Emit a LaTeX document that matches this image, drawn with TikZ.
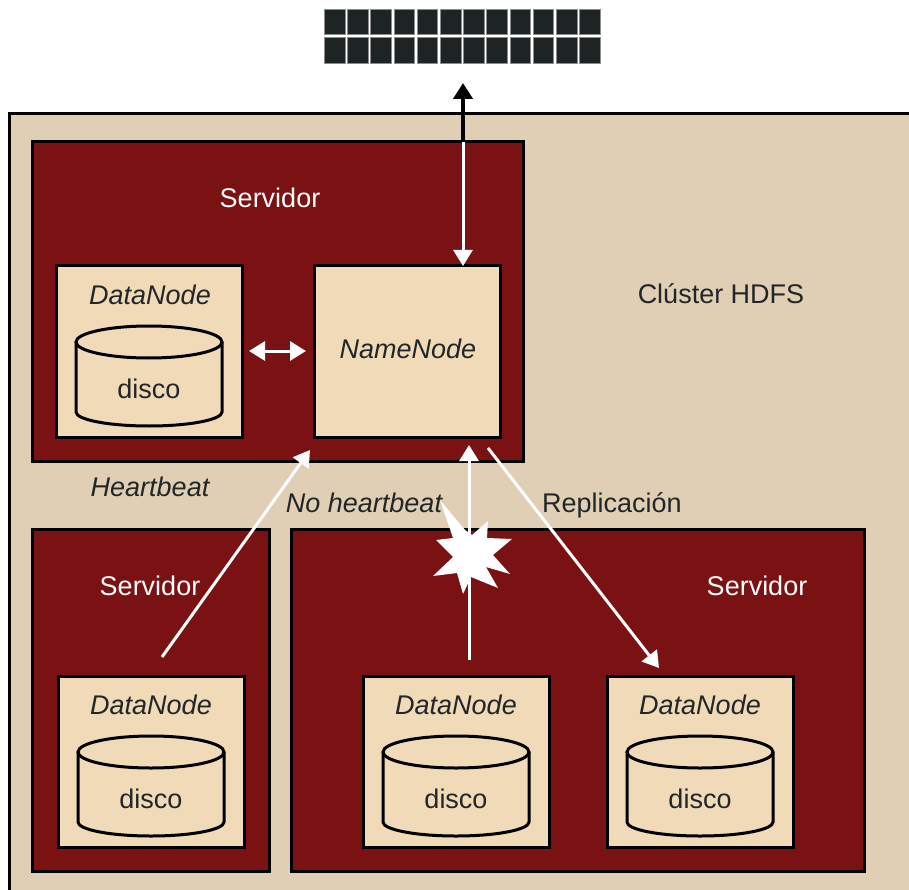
\documentclass[tikz,border=0pt]{standalone}
\usepackage{fontspec}
\setmainfont{Liberation Sans}
\usetikzlibrary{arrows.meta,calc}
\definecolor{cluster}{HTML}{E0CFB4}
\definecolor{srv}{HTML}{7A1112}
\definecolor{box}{HTML}{F0DAB8}
\definecolor{ink}{HTML}{222628}
\definecolor{cellc}{HTML}{1E2324}
\tikzset{
  server/.style={draw=black,line width=3pt,fill=srv,minimum width=#1,inner sep=0pt,outer sep=0pt,anchor=north west},
  card/.style={draw=black,line width=3pt,fill=box,minimum width=186pt,minimum height=171pt,inner sep=0pt,outer sep=0pt,anchor=north west},
  lab/.style={font=\fontsize{27}{30}\selectfont,text=ink,anchor=base,inner sep=0pt},
  wlab/.style={font=\fontsize{27}{30}\selectfont,text=white,anchor=base,inner sep=0pt},
  ilab/.style={lab,font=\fontsize{27}{30}\selectfont\itshape},
  cellbox/.style={draw=black!45,line width=1pt,fill=cellc,minimum width=20.5pt,minimum height=25.5pt,inner sep=0pt,outer sep=0pt,anchor=north west},
  tipw/.style={-{Triangle[width=19pt,length=16pt,fill=white,color=white]}},
  wire/.style={draw=white,line width=3pt},
  disk/.pic={
    \draw[line width=3pt,fill=box] (-73,-35) -- (-73,35) arc[start angle=180,end angle=0,x radius=73,y radius=14] -- (73,-35);
    \draw[line width=3pt,fill=box] (0,-35) ellipse[x radius=73,y radius=16];
  }
}
\begin{document}
\begin{tikzpicture}[x=1pt,y=-1pt]
\useasboundingbox (0,0) rectangle (909,890);
\fill[white] (0,0) rectangle (909,890);
\fill[cluster] (9,114) rectangle (909,890);
\draw[line width=3pt,line cap=butt] (9,890) -- (9,114) -- (909,114);

% output grid
\foreach \c in {0,...,11}{
  \node[cellbox] (a\c) at ({324.5+23.2*\c},9.5) {};
  \node[cellbox] (b\c) at ({324.5+23.2*\c},37.7) {};
}
\coordinate (gridbase) at (463,83);

% servers
\node[server=491pt,minimum height=319pt] (s1) at (32,142) {};
\node[server=237pt,minimum height=342pt] (s2) at (32,529) {};
\node[server=573pt,minimum height=342pt] (s3) at (291,529) {};

% cards
\node[card] (dn1) at (56,266) {};
\node[card] (nn) at (314.5,266) {};
\node[card] (dn2) at (58,676) {};
\node[card] (dn3) at (363,676) {};
\node[card] (dn4) at (607,676) {};

% disks
\pic at (149,377) {disk};
\pic at (151,787) {disk};
\pic at (456,787) {disk};
\pic at (700,787) {disk};

% text
\node[wlab] (t1) at (270,208) {Servidor};
\node[wlab] (t2) at (150,595) {Servidor};
\node[wlab] (t3) at (757,595) {Servidor};
\node[ilab] (l1) at (150,304) {DataNode};
\node[ilab] (l2) at (151,714) {DataNode};
\node[ilab] (l3) at (456,714) {DataNode};
\node[ilab] (l4) at (700,714) {DataNode};
\node[ilab] (l5) at (408,358) {NameNode};
\node[lab] (d1) at (149,398) {disco};
\node[lab] (d2) at (151,808) {disco};
\node[lab] (d3) at (456,808) {disco};
\node[lab] (d4) at (700,808) {disco};
\node[lab] (cl) at (721,303) {Clúster HDFS};
\node[ilab] (hb) at (150,496) {Heartbeat};
\node[ilab] (nh) at (364,512) {No heartbeat};
\node[lab] (rp) at (612,512) {Replicación};

% connector ends
\coordinate (nnTop) at (463,266);
\coordinate (s1Top) at (463,142);
\coordinate (dnR) at (249,351);
\coordinate (nnL) at (306,351);
\coordinate (hbS) at (162,657);
\coordinate (hbE) at (310,450);
\coordinate (nhS) at (469,660);
\coordinate (nhE) at (469,445);
\coordinate (rpS) at (488,448);
\coordinate (rpE) at (659,668);

% connectors
\draw[line width=4pt,-{Triangle[width=19pt,length=16pt]}] (s1Top) -- (gridbase);
\draw[wire,tipw] (s1Top) -- (nnTop);
\draw[wire,{Triangle[width=19pt,length=16pt,fill=white,color=white]}-{Triangle[width=19pt,length=16pt,fill=white,color=white]}] (dnR) -- (nnL);
\draw[wire,tipw] (hbS) -- (hbE);
\draw[wire,tipw] (nhS) -- (nhE);
\draw[wire,tipw] (rpS) -- (rpE);

% failure star
\fill[white] (440,500) -- (453,538) -- (436,540) -- (453,557) -- (433,576) -- (457,573) -- (463,594) -- (471,577) -- (498,588) -- (486,567) -- (510,574) -- (493,555) -- (512,539) -- (487,538) -- (488,521) -- (472,535) -- (465,530) -- cycle;
\end{tikzpicture}
\end{document}
